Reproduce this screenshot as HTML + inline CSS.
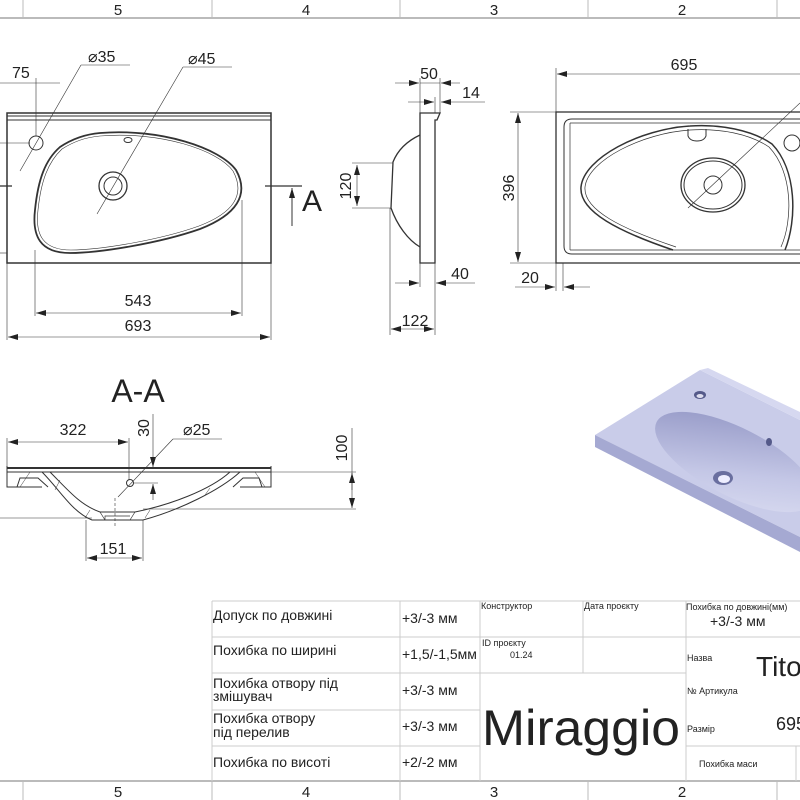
<!DOCTYPE html>
<html><head><meta charset="utf-8"><style>
html,body{margin:0;padding:0;background:#fff}
svg{display:block}
text{font-family:"Liberation Sans",sans-serif;fill:#222}
</style></head><body>
<svg width="800" height="800" viewBox="0 0 800 800" xmlns="http://www.w3.org/2000/svg">
<defs>
<marker id="a" viewBox="0 0 10 6" refX="10" refY="3" markerWidth="10" markerHeight="6" orient="auto-start-reverse" markerUnits="userSpaceOnUse"><path d="M0,0 L10,3 L0,6 Z" fill="#222"/></marker>
<linearGradient id="bw" x1="0" y1="0" x2="1" y2="1"><stop offset="0" stop-color="#8e92c2"/><stop offset="0.6" stop-color="#c4c7e6"/><stop offset="1" stop-color="#dcdef2"/></linearGradient>
</defs>
<g stroke="#bbb" stroke-width="1" fill="none">
<line x1="0" y1="18" x2="800" y2="18" stroke-width="2"/>
<line x1="23" y1="0" x2="23" y2="18"/><line x1="212" y1="0" x2="212" y2="18"/><line x1="400" y1="0" x2="400" y2="18"/><line x1="588" y1="0" x2="588" y2="18"/><line x1="777" y1="0" x2="777" y2="18"/>
<line x1="0" y1="781" x2="800" y2="781" stroke-width="2"/>
<line x1="23" y1="781" x2="23" y2="800"/><line x1="212" y1="781" x2="212" y2="800"/><line x1="400" y1="781" x2="400" y2="800"/><line x1="588" y1="781" x2="588" y2="800"/><line x1="777" y1="781" x2="777" y2="800"/>
</g>
<g font-size="15" text-anchor="middle">
<text x="118" y="15">5</text><text x="306" y="15">4</text><text x="494" y="15">3</text><text x="682" y="15">2</text>
<text x="118" y="797">5</text><text x="306" y="797">4</text><text x="494" y="797">3</text><text x="682" y="797">2</text>
</g>

<g stroke="#333" stroke-width="1" fill="none">
<rect x="7" y="113" width="264" height="150" stroke-width="1.5"/>
<line x1="7" y1="116" x2="271" y2="116"/><line x1="7" y1="120" x2="271" y2="120"/>
<path d="M100,133 C160,128 220,148 236,170 C250,195 236,215 200,229 C160,243 100,253 70,253 C40,253 32,236 35,210 C38,180 45,160 60,147 C75,137 88,134 100,133 Z" stroke-width="1.8"/>
<path d="M100,136 C160,131 218,150 233,171 C246,195 233,213 199,226 C160,240 100,250 71,250 C43,250 35,235 38,210 C41,181 48,162 62,149 C76,140 88,137 100,136 Z" stroke-width="0.6"/>
<circle cx="113" cy="186" r="14" stroke-width="1.3"/><circle cx="113" cy="186" r="9"/>
<ellipse cx="128" cy="140" rx="4" ry="2.5"/>
<circle cx="36" cy="143" r="7"/>
<line x1="0" y1="143" x2="30" y2="143" stroke-width="0.6"/>
<line x1="0" y1="253" x2="7" y2="253" stroke-width="0.6"/>
<line x1="20" y1="171" x2="81" y2="65" stroke-width="0.6"/><line x1="81" y1="65" x2="130" y2="65" stroke-width="0.6"/>
<line x1="97" y1="214" x2="183" y2="67" stroke-width="0.6"/><line x1="183" y1="67" x2="232" y2="67" stroke-width="0.6"/>
<line x1="0" y1="83" x2="60" y2="83" stroke-width="0.6"/>
<line x1="36" y1="78" x2="36" y2="136" stroke-width="0.6"/>
<line x1="265" y1="186" x2="302" y2="186" stroke-width="1.3"/><line x1="0" y1="186" x2="12" y2="186" stroke-width="1.3"/>
<line x1="292" y1="226" x2="292" y2="188" marker-end="url(#a)"/>
<line x1="35" y1="250" x2="35" y2="316" stroke-width="0.6"/><line x1="242" y1="200" x2="242" y2="316" stroke-width="0.6"/>
<line x1="36" y1="313" x2="241" y2="313" stroke-width="0.6" marker-start="url(#a)" marker-end="url(#a)"/>
<line x1="7" y1="263" x2="7" y2="340" stroke-width="0.6"/><line x1="271" y1="263" x2="271" y2="340" stroke-width="0.6"/>
<line x1="8" y1="337" x2="270" y2="337" stroke-width="0.6" marker-start="url(#a)" marker-end="url(#a)"/>

<path d="M420,113 L440,113 L437,120 L435,120 L435,263 L420,263 Z" stroke-width="1.3"/>
<path d="M420,135 C405,142 397,152 393,162 L391,208 C397,225 408,240 420,247" stroke-width="1.3"/>
<line x1="352" y1="163" x2="393" y2="163" stroke-width="0.6"/><line x1="352" y1="208" x2="391" y2="208" stroke-width="0.6"/>
<line x1="357" y1="165" x2="357" y2="206" stroke-width="0.6" marker-start="url(#a)" marker-end="url(#a)"/>
<line x1="420" y1="78" x2="420" y2="113" stroke-width="0.6"/><line x1="440" y1="78" x2="440" y2="113" stroke-width="0.6"/>
<line x1="395" y1="83" x2="419" y2="83" stroke-width="0.6" marker-end="url(#a)"/><line x1="460" y1="83" x2="441" y2="83" stroke-width="0.6" marker-end="url(#a)"/><line x1="420" y1="83" x2="440" y2="83" stroke-width="0.6"/>
<line x1="435" y1="97" x2="435" y2="113" stroke-width="0.6"/>
<line x1="408" y1="102" x2="434" y2="102" stroke-width="0.6" marker-end="url(#a)"/><line x1="485" y1="102" x2="441" y2="102" stroke-width="0.6" marker-end="url(#a)"/>
<line x1="420" y1="263" x2="420" y2="287" stroke-width="0.6"/><line x1="435" y1="263" x2="435" y2="335" stroke-width="0.6"/>
<line x1="395" y1="283" x2="419" y2="283" stroke-width="0.6" marker-end="url(#a)"/><line x1="475" y1="283" x2="436" y2="283" stroke-width="0.6" marker-end="url(#a)"/>
<line x1="390" y1="208" x2="390" y2="335" stroke-width="0.6"/>
<line x1="391" y1="329" x2="434" y2="329" stroke-width="0.6" marker-start="url(#a)" marker-end="url(#a)"/>

<rect x="556" y="112" width="260" height="151" stroke-width="1.3"/>
<path d="M572,119 L820,119 M572,254 L820,254 M564,127 L564,246" />
<path d="M572,119 Q564,119 564,127 M564,246 Q564,254 572,254"/>
<path d="M570,123 L820,123 M570,250 L820,250 M570,123 L570,250" stroke-width="0.7"/>
<path d="M690,126 C640,129 584,158 581,187 C579,212 620,232 673,250 M785,250 C797,220 797,170 772,144 C752,130 720,124 690,126" stroke-width="1.5"/>
<path d="M690,130 C643,133 588,160 585,187 C583,210 622,229 676,247 M781,247 C793,220 793,172 769,147 C750,134 720,128 690,130" stroke-width="0.7"/>
<ellipse cx="713" cy="185" rx="32" ry="27" stroke-width="1.3"/><ellipse cx="713" cy="185" rx="29" ry="24"/>
<circle cx="713" cy="185" r="9"/>
<path d="M688,129 L688,136 Q690,141 697,141 Q704,141 706,136 L706,129" />
<circle cx="792" cy="143" r="8"/>
<line x1="688" y1="208" x2="800" y2="103" stroke-width="0.6"/>
<line x1="556" y1="68" x2="556" y2="291" stroke-width="0.6"/><line x1="563" y1="263" x2="563" y2="291" stroke-width="0.6"/>
<line x1="557" y1="74" x2="800" y2="74" stroke-width="0.6" marker-start="url(#a)"/>
<line x1="510" y1="112" x2="556" y2="112" stroke-width="0.6"/><line x1="510" y1="263" x2="556" y2="263" stroke-width="0.6"/>
<line x1="518" y1="113" x2="518" y2="262" stroke-width="0.6" marker-start="url(#a)" marker-end="url(#a)"/>
<line x1="515" y1="287" x2="555" y2="287" stroke-width="0.6" marker-end="url(#a)"/><line x1="590" y1="287" x2="564" y2="287" stroke-width="0.6" marker-end="url(#a)"/>

<line x1="7" y1="468" x2="271" y2="468" stroke-width="2"/>
<line x1="7" y1="472" x2="271" y2="472"/>
<path d="M7,466 L7,487 L42,487 M42,472 C60,490 72,512 92,520 L143,520 C180,510 220,490 240,472 M240,487 L271,487 L271,466"/>
<path d="M17,487 L20,478 L38,478 L48,487 M262,487 L259,478 L243,478 L233,487"/>
<path d="M50,472 C68,490 80,505 100,512 L135,512 C170,505 210,490 230,472" />
<path d="M100,512 L105,520 M135,512 L130,520 M105,520 L105,516 L130,516" stroke-width="0.7"/>
<path d="M30,472 L20,487 M255,472 L265,487 M60,480 L55,490 M90,510 L85,518 M150,510 L145,518 M210,488 L205,495" stroke-width="0.5"/>
<circle cx="130" cy="483" r="3.5"/>
<line x1="115" y1="498" x2="115" y2="528" stroke-dasharray="3,2" stroke-width="0.6"/>
<line x1="0" y1="518" x2="92" y2="518" stroke-width="0.6"/>
<line x1="7" y1="438" x2="7" y2="468" stroke-width="0.6"/><line x1="129" y1="438" x2="129" y2="480" stroke-width="0.6"/>
<line x1="8" y1="442" x2="128" y2="442" stroke-width="0.6" marker-start="url(#a)" marker-end="url(#a)"/>
<line x1="153" y1="414" x2="153" y2="467" stroke-width="0.6" marker-end="url(#a)"/><line x1="153" y1="500" x2="153" y2="484" stroke-width="0.6" marker-end="url(#a)"/>
<line x1="133" y1="483" x2="158" y2="483" stroke-width="0.6"/>
<line x1="118" y1="497" x2="173" y2="439" stroke-width="0.6"/><line x1="173" y1="439" x2="222" y2="439" stroke-width="0.6"/>
<line x1="271" y1="472" x2="356" y2="472" stroke-width="0.6"/><line x1="143" y1="509" x2="356" y2="509" stroke-width="0.6"/>
<line x1="352" y1="428" x2="352" y2="508" stroke-width="0.6" marker-end="url(#a)"/>
<line x1="352" y1="490" x2="352" y2="473" stroke-width="0.6" marker-end="url(#a)"/>
<line x1="86" y1="520" x2="86" y2="561" stroke-width="0.6"/><line x1="143" y1="520" x2="143" y2="561" stroke-width="0.6"/>
<line x1="87" y1="558" x2="142" y2="558" stroke-width="0.6" marker-start="url(#a)" marker-end="url(#a)"/>
</g>

<g font-size="16">
<text x="12" y="78">75</text>
<text x="88" y="62">⌀35</text>
<text x="188" y="64">⌀45</text>
<text x="302" y="211" font-size="30">A</text>
<text x="138" y="306" text-anchor="middle">543</text>
<text x="138" y="331" text-anchor="middle">693</text>
<text x="429" y="79" text-anchor="middle">50</text>
<text x="471" y="98" text-anchor="middle">14</text>
<text x="460" y="279" text-anchor="middle">40</text>
<text x="415" y="326" text-anchor="middle">122</text>
<text transform="translate(351,186) rotate(-90)" text-anchor="middle">120</text>
<text x="684" y="70" text-anchor="middle">695</text>
<text transform="translate(514,188) rotate(-90)" text-anchor="middle">396</text>
<text x="530" y="283" text-anchor="middle">20</text>
<text x="138" y="402" font-size="32" text-anchor="middle">A-A</text>
<text x="73" y="435" text-anchor="middle">322</text>
<text transform="translate(149,428) rotate(-90)" text-anchor="middle">30</text>
<text x="183" y="435">⌀25</text>
<text transform="translate(347,448) rotate(-90)" text-anchor="middle">100</text>
<text x="113" y="554" text-anchor="middle">151</text>
</g>

<polygon points="595,435 700,370 800,420 800,537" fill="#c9cce9"/>
<polygon points="595,435 800,537 800,552 595,447" fill="#a5a9d2"/>
<polygon points="700,370 708,368 800,412 800,420" fill="#d6d8f0"/>
<ellipse cx="735" cy="462" rx="88" ry="34" transform="rotate(27 735 462)" fill="url(#bw)"/>
<ellipse cx="700" cy="395" rx="6" ry="4" fill="#555a8a"/>
<ellipse cx="700" cy="396" rx="3.5" ry="2" fill="#dde"/>
<ellipse cx="769" cy="442" rx="3" ry="4" fill="#555a8a"/>
<ellipse cx="723" cy="478" rx="10" ry="7" fill="#6a6f9f"/><ellipse cx="724" cy="479" rx="6" ry="4" fill="#eef"/>

<g stroke="#ccc" stroke-width="1" fill="none">
<line x1="212" y1="601" x2="800" y2="601"/>
<line x1="212" y1="637" x2="800" y2="637"/>
<line x1="212" y1="673" x2="686" y2="673"/>
<line x1="212" y1="710" x2="480" y2="710"/>
<line x1="212" y1="746" x2="480" y2="746"/><line x1="686" y1="746" x2="800" y2="746"/>
<line x1="212" y1="601" x2="212" y2="781"/>
<line x1="400" y1="601" x2="400" y2="781"/>
<line x1="480" y1="601" x2="480" y2="781"/>
<line x1="583" y1="601" x2="583" y2="673"/>
<line x1="686" y1="601" x2="686" y2="781"/>
<line x1="796" y1="746" x2="796" y2="781"/>
</g>
<g font-size="14">
<text x="213" y="620">Допуск по довжині</text>
<text x="213" y="655">Похибка по ширині</text>
<text x="213" y="688">Похибка отвору під</text>
<text x="213" y="701">змішувач</text>
<text x="213" y="723">Похибка отвору</text>
<text x="213" y="737">під перелив</text>
<text x="213" y="767">Похибка по висоті</text>
<text x="402" y="623">+3/-3 мм</text>
<text x="402" y="659">+1,5/-1,5мм</text>
<text x="402" y="695">+3/-3 мм</text>
<text x="402" y="731">+3/-3 мм</text>
<text x="402" y="767">+2/-2 мм</text>
</g>
<g font-size="9">
<text x="481" y="609">Конструктор</text>
<text x="584" y="609">Дата проєкту</text>
<text x="686" y="610">Похибка по довжині(мм)</text>
<text x="482" y="646">ID проєкту</text>
<text x="510" y="658">01.24</text>
<text x="687" y="661">Назва</text>
<text x="687" y="694">№ Артикула</text>
<text x="687" y="732">Размір</text>
<text x="699" y="767">Похибка маси</text>
</g>
<text x="710" y="626" font-size="14">+3/-3 мм</text>
<text x="756" y="676" font-size="28">Tito</text>
<text x="776" y="730" font-size="18">695</text>
<text x="482" y="745" font-size="50" textLength="198" lengthAdjust="spacingAndGlyphs">Miraggio</text>
</svg>
</body></html>
